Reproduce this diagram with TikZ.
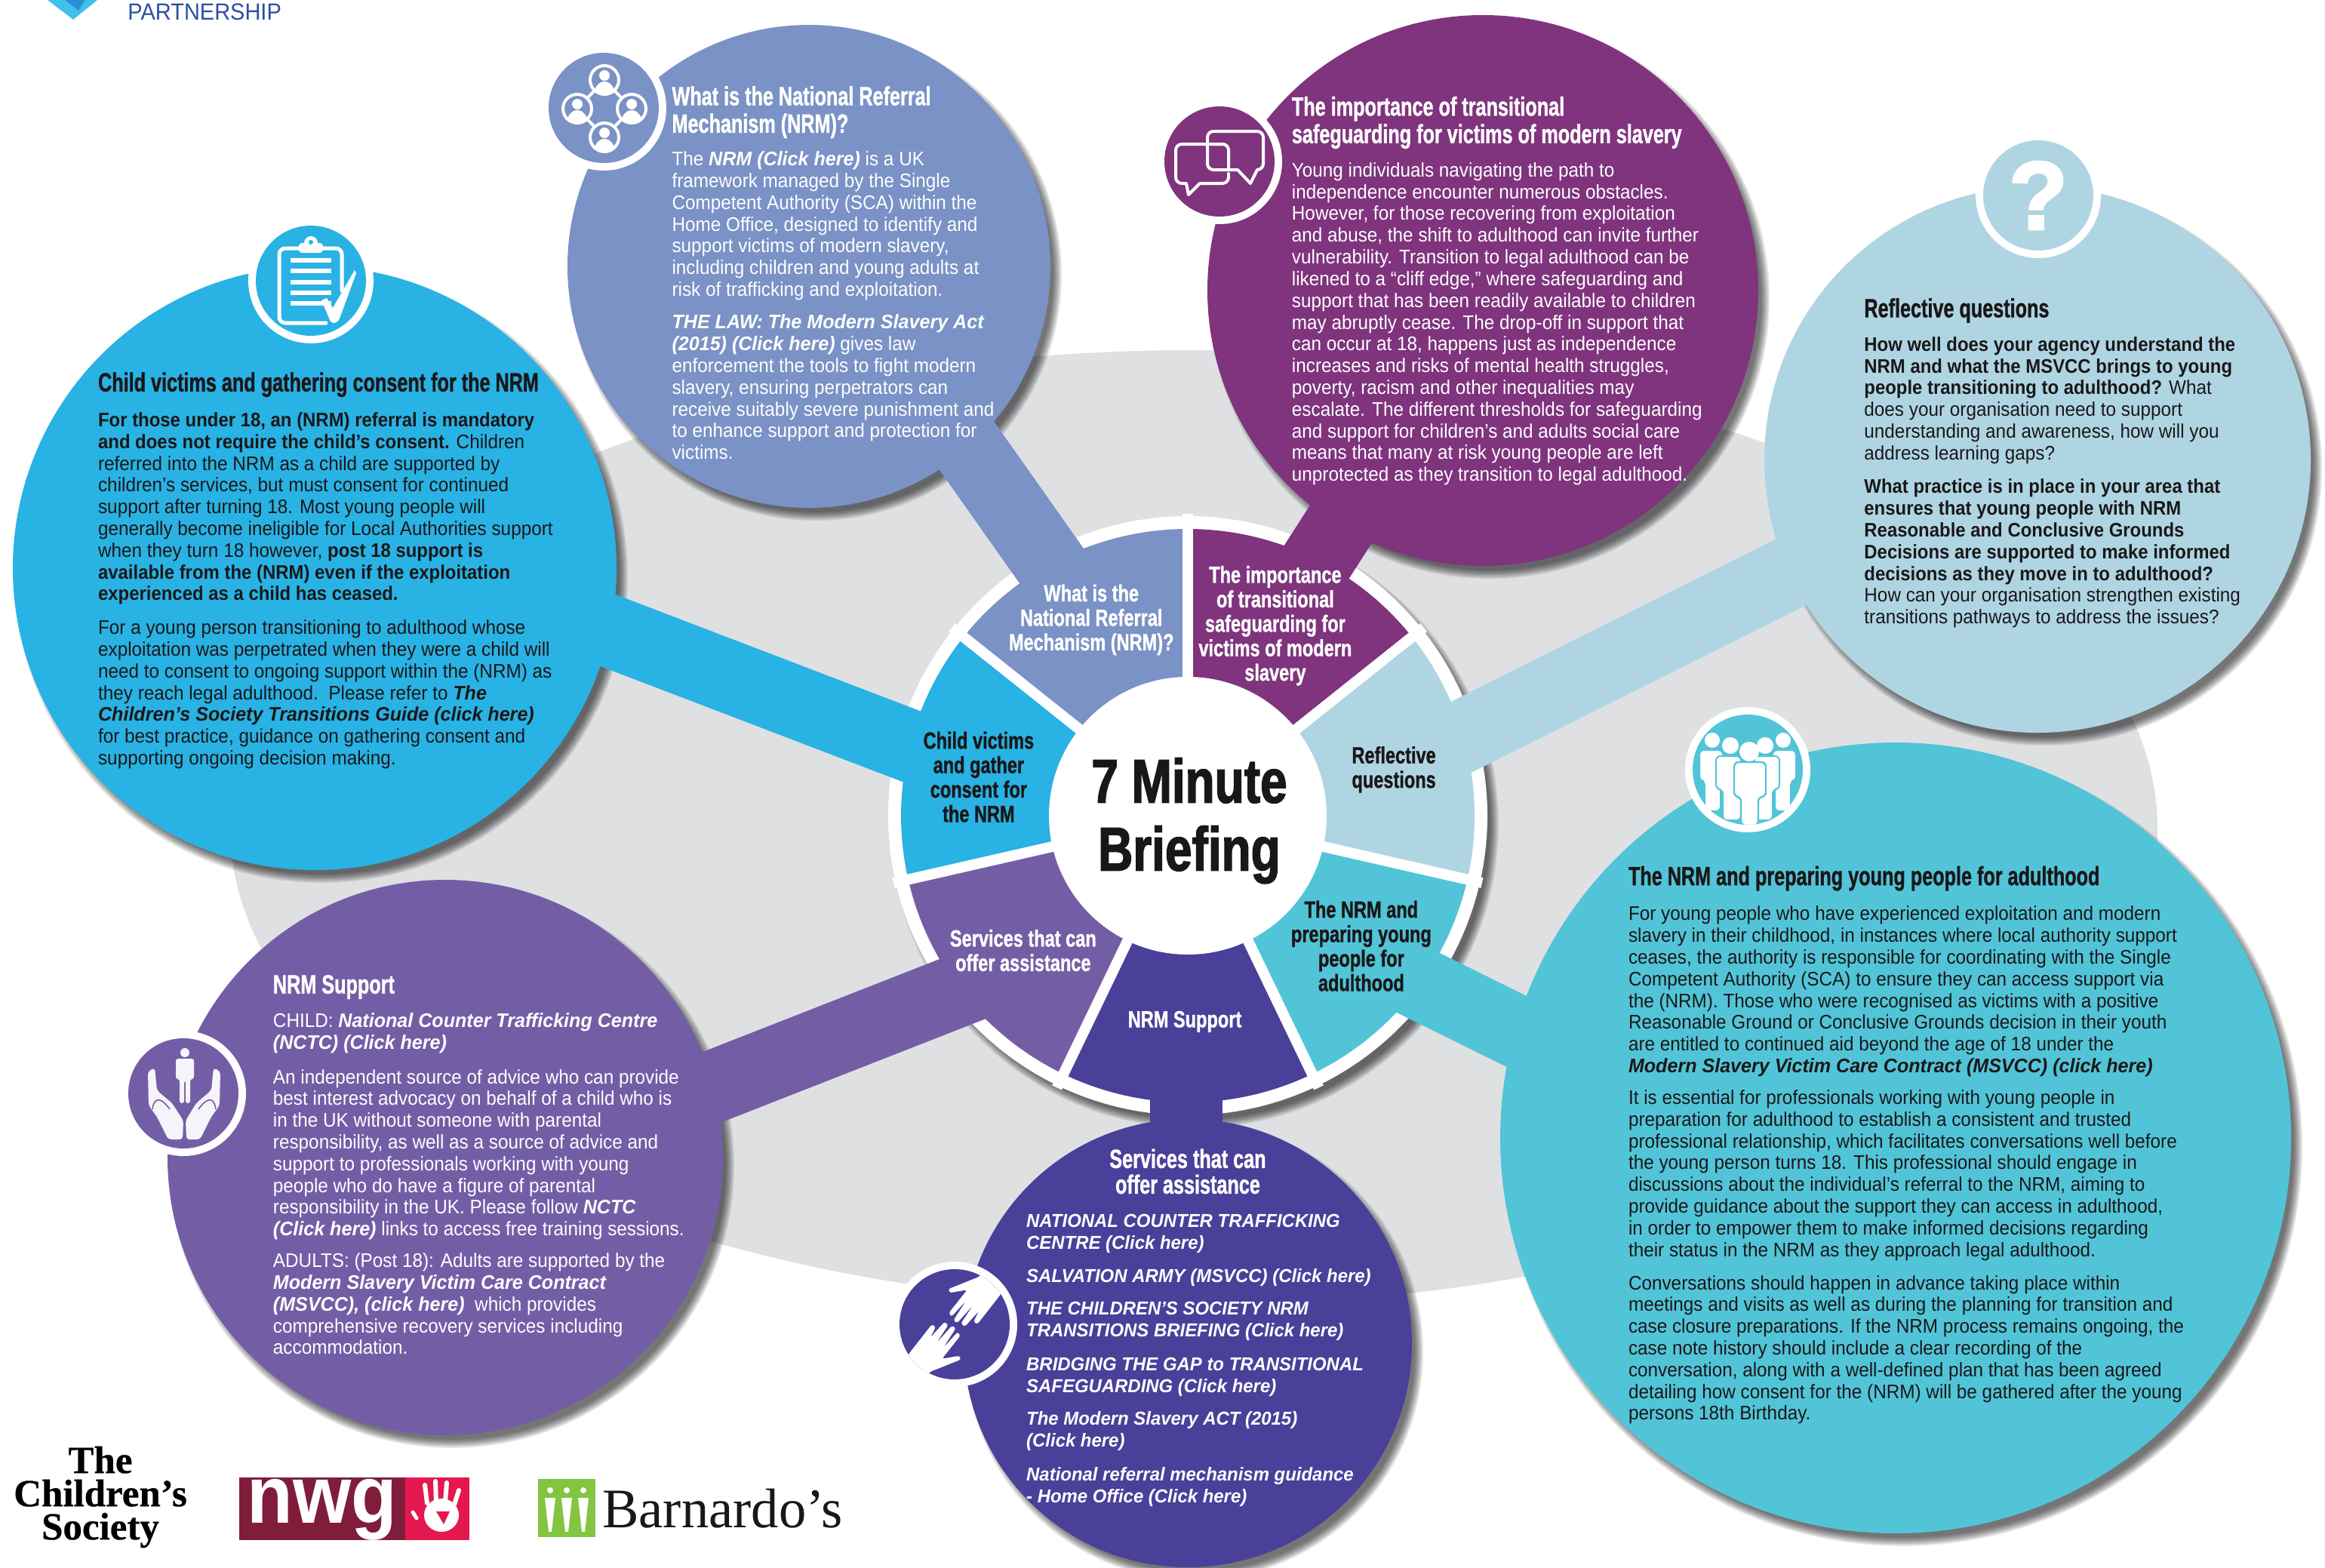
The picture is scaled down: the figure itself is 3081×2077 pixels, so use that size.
\documentclass[tikz,border=0pt]{standalone}
\usepackage{fontspec}
\setmainfont[UprightFeatures={FakeStretch=0.935},BoldFeatures={FakeStretch=0.92},ItalicFeatures={FakeStretch=0.95},BoldItalicFeatures={FakeStretch=0.965}]{Liberation Sans}
\newfontfamily\headf[FakeStretch=0.72,FakeBold=1]{Liberation Sans Bold}
\newfontfamily\wheelf[FakeStretch=0.76,FakeBold=1]{Liberation Sans Bold}
\newfontfamily\bigf[FakeStretch=0.78,FakeBold=1.8]{Liberation Sans Bold}
\newfontfamily\qmarkf[FakeBold=2.5]{Liberation Sans Bold}
\newfontfamily\logof{Liberation Serif}
\newfontfamily\tcsf[FakeStretch=1.0,FakeBold=0.5]{Liberation Serif Bold}
\newfontfamily\barnf[FakeStretch=0.98]{Liberation Serif}
\definecolor{cblue}{HTML}{29B2E4}
\definecolor{cperi}{HTML}{7A92C5}
\definecolor{cplum}{HTML}{7F347D}
\definecolor{clight}{HTML}{AFD5E3}
\definecolor{cteal}{HTML}{52C4D8}
\definecolor{cviol}{HTML}{735EA6}
\definecolor{cnavy}{HTML}{4A409A}
\definecolor{cgrey}{HTML}{DFE0E2}
\definecolor{cdark}{HTML}{1A1718}
\definecolor{cpart}{HTML}{2B4FA3}
\definecolor{cshield}{HTML}{3FC1EF}
\definecolor{cshield2}{HTML}{2F8FD6}
\definecolor{cmaroon}{HTML}{801D3A}
\definecolor{cred}{HTML}{E5174F}
\definecolor{cgreen}{HTML}{83C441}
\tikzset{
  bigdisc/.style={circle,inner sep=0pt,draw=none},
  iconring/.style={circle,inner sep=0pt,fill=white,minimum size=83pt},
  icondisc/.style={circle,inner sep=0pt,minimum size=73pt},
  spokeline/.style={line width=48pt,line cap=butt},
  ttl/.style={font=\headf\fontsize{17.5}{18.2}\selectfont,align=left,inner sep=0pt,anchor=north west},
  bdy/.style={font=\fontsize{13}{14.4}\selectfont,align=left,inner sep=0pt,anchor=north west},
  bdyn/.style={font=\fontsize{12.4}{14.4}\selectfont,align=left,inner sep=0pt,anchor=north west},
  wlab/.style={font=\wheelf\fontsize{15.5}{16.2}\selectfont,align=center,inner sep=0pt},
  glyph/.style={white,line width=2pt,line cap=round,line join=round},
}
% soft shadow round a disc
\newcommand{\softshadow}[3]{%
  \foreach \s in {0,...,7}{\fill[black,opacity=0.09] ({#1+9},{#2+11}) circle[radius={#3+6-1.6*\s}];}}
\newcommand{\tx}[5][]{\node[#1] (#2) at ({#3*1.965},{#4*1.965-11}) {\rule{0pt}{10pt}#5};}
\newcommand{\bi}[1]{\textbf{\textit{#1}}}
\newcommand{\handshape}{(1298.3,1691.7) -- (1256.7,1708.3) -- (1258.3,1713.3) -- (1281.7,1709.3) -- (1257.3,1740) -- (1260.7,1745) -- (1280,1724) -- (1263.3,1750) -- (1268.3,1753.3) -- (1289.3,1730) -- (1273.3,1754) -- (1278.3,1758.3) -- (1297.3,1737.3) -- (1290,1751.7) -- (1295,1755) -- (1325,1716.7) -- (1345,1680) -- (1310,1670) -- cycle}
\begin{document}
\begin{tikzpicture}[x=0.5pt,y=-0.5pt]
\useasboundingbox (0,0) rectangle (3081,2077);
\fill[white] (0,0) rectangle (3081,2077);
% grey backdrop
\fill[cgrey] (1582,1097) ellipse[x radius=1277,y radius=633];
% wheel
\coordinate (hub) at (1574,1081);
\softshadow{1574}{1081}{397}
\fill[white] (hub) circle[radius=397];
\foreach \a/\b/\c in {90/141.43/cperi,38.57/90/cplum,-12.86/38.57/clight,-64.29/-12.86/cteal,-115.71/-64.29/cnavy,-167.14/-115.71/cviol,-218.57/-167.14/cblue}{
  \fill[\c] (hub) -- ++({-\a}:380) arc[start angle={-\a},end angle={-\b},radius=380] -- cycle;
}
\foreach \a in {90,38.57,-12.86,-64.29,-115.71,-167.14,-218.57}{
  \draw[white,line width=7pt] (hub) -- ++({-\a}:400);
}
% big discs with their shadows
\softshadow{417}{753}{400}
\softshadow{1072}{353}{320}
\softshadow{1965}{385}{365}
\softshadow{2700}{609}{362}
\softshadow{2512}{1508}{524}
\softshadow{590}{1534}{368}
\softshadow{1574}{1780}{297}
\node[bigdisc,fill=cblue,minimum size=400pt] (dBlue) at (417,753) {};
\node[bigdisc,fill=cperi,minimum size=320pt] (dPeri) at (1072,353) {};
\node[bigdisc,fill=cplum,minimum size=365pt] (dPlum) at (1965,385) {};
\node[bigdisc,fill=clight,minimum size=362pt] (dLight) at (2700,609) {};
\node[bigdisc,fill=cteal,minimum size=524pt] (dTeal) at (2512,1508) {};
\node[bigdisc,fill=cviol,minimum size=368pt] (dViol) at (590,1534) {};
\node[bigdisc,fill=cnavy,minimum size=297pt] (dNavy) at (1574,1780) {};
% spokes
\coordinate (sBlueA) at (700,795); \coordinate (sBlueB) at (1270,1013);
\coordinate (sPeriA) at (1191,463); \coordinate (sPeriB) at (1450,830);
\coordinate (sPlumA) at (1860,565); \coordinate (sPlumB) at (1683,841);
\coordinate (sLightA) at (2500,695); \coordinate (sLightB) at (1850,1020);
\coordinate (sTealA) at (2200,1461); \coordinate (sTealB) at (1840,1283);
\coordinate (sViolA) at (800,1497); \coordinate (sViolB) at (1300,1301);
\coordinate (sNavyA) at (1572,1600); \coordinate (sNavyB) at (1572,1380);
\draw[spokeline,cblue] (sBlueA) -- (sBlueB);
\draw[spokeline,cperi] (sPeriA) -- (sPeriB);
\draw[spokeline,cplum] (sPlumA) -- (sPlumB);
\draw[spokeline,clight] (sLightA) -- (sLightB);
\draw[spokeline,cteal] (sTealA) -- (sTealB);
\draw[spokeline,cviol] (sViolA) -- (sViolB);
\draw[spokeline,cnavy] (sNavyA) -- (sNavyB);
% hub
\node[circle,fill=white,inner sep=0pt,minimum size=184pt] (hubc) at (hub) {};
\node[font=\bigf\fontsize{41}{45}\selectfont,align=center,text=cdark,inner sep=0pt] (title) at (802*1.965,553.5*1.965) {7 Minute\\Briefing};
% wheel labels
\node[wlab,text=white] (l1) at (736*1.965,418*1.965) {What is the\\National Referral\\Mechanism (NRM)?};
\node[wlab,text=white] (l2) at (860*1.965,422*1.965) {The importance\\of transitional\\safeguarding for\\victims of modern\\slavery};
\node[wlab,text=cdark] (l3) at (940*1.965,519*1.965) {Reflective\\questions};
\node[wlab,text=cdark] (l4) at (918*1.965,638*1.965) {The NRM and\\preparing young\\people for\\adulthood};
\node[wlab,text=white] (l5) at (799*1.965,689*1.965) {NRM Support};
\node[wlab,text=white] (l6) at (690*1.965,641*1.965) {Services that can\\offer assistance};
\node[wlab,text=cdark] (l7) at (660*1.965,524*1.965) {Child victims\\and gather\\consent for\\the NRM};
% icon discs
\node[iconring] (rBlue) at (412,372) {};   \node[icondisc,fill=cblue] (iBlue) at (412,372) {};
\node[iconring] (rPeri) at (800,143) {};   \node[icondisc,fill=cperi] (iPeri) at (800,143) {};
\node[iconring] (rPlum) at (1616,214) {};  \node[icondisc,fill=cplum] (iPlum) at (1616,214) {};
\node[iconring] (rLight) at (2701,259) {}; \node[icondisc,fill=clight] (iLight) at (2701,259) {};
\node[iconring] (rTeal) at (2316,1020) {}; \node[icondisc,fill=cteal] (iTeal) at (2316,1020) {};
\node[iconring] (rViol) at (243,1449) {};  \node[icondisc,fill=cviol] (iViol) at (243,1449) {};
\node[iconring] (rNavy) at (1265,1755) {}; \node[icondisc,fill=cnavy] (iNavy) at (1265,1755) {};
% clipboard
\draw[glyph,line width=2.5pt] (396,329) -- (378,329) arc[start angle=-90,end angle=-180,radius=8] -- (370,420) arc[start angle=180,end angle=90,radius=8] -- (432,428);
\draw[glyph,line width=2.5pt] (428,329) -- (445,329) arc[start angle=-90,end angle=0,radius=8] -- (453,385);
\fill[white,rounded corners=2pt] (396,322) rectangle (428,335);
\fill[white] (412,322) circle[radius=9];
\fill[cblue] (412,321) circle[radius=3];
\foreach \yy in {345,359,374,388,402}{\fill[white] (385,\yy-3) rectangle (439,\yy+3);}
\fill[white] (426,398) -- (433,395) -- (441,408) -- (470,358) -- (472,362) -- (450,422) .. controls (446,430) and (440,430) .. (437,424) -- cycle;
% network of people
\draw[white,line width=2pt] (801,106) -- (765,144) -- (801,182) -- (837,144) -- cycle;
\foreach \px/\py in {801/106,765/144,837/144,801/182}{
  \fill[cperi] (\px,\py) circle[radius=21];
  \draw[white,line width=2pt] (\px,\py) circle[radius=19];
  \fill[white] (\px,\py-6) circle[radius=7];
  \begin{scope}
    \clip (\px,\py) circle[radius=18];
    \fill[white] (\px,\py+20) ellipse[x radius=14,y radius=18];
  \end{scope}
}
% speech bubbles
\draw[glyph] (1622,191) -- (1566,191) arc[start angle=-90,end angle=-180,radius=8] -- (1558,235) arc[start angle=180,end angle=90,radius=8] -- (1572,243) -- (1575,258) -- (1590,243) -- (1620,243) arc[start angle=90,end angle=0,radius=8] -- (1628,230);
\draw[glyph] (1608,174) -- (1666,174) arc[start angle=-90,end angle=0,radius=8] -- (1674,217) arc[start angle=0,end angle=90,radius=8] -- (1666,225) -- (1657,243) -- (1640,225) -- (1608,225) arc[start angle=90,end angle=180,radius=8] -- (1600,182) arc[start angle=180,end angle=270,radius=8];
\draw[glyph] (1608,191) -- (1620,191) arc[start angle=-90,end angle=0,radius=8] -- (1628,222);
% question mark
\node[font=\qmarkf\fontsize{64}{64}\selectfont,text=white,inner sep=0pt] (qm) at (2701,259) {?};
% crowd of people
\begin{scope}
\clip (2316,1020) circle[radius=73];
\foreach \f/\hx/\hy/\hr/\tl/\tr/\tt/\tb/\ll/\lr/\lb in {
  1/2269/981/10/2252/2283/994/1035/2259/2280/1075,
  2/2363/981/10/2349/2380/994/1035/2352/2373/1075,
  3/2293/988/11/2274/2307/1002/1046/2283/2307/1087,
  4/2339/988/11/2325/2358/1002/1046/2325/2349/1087}{
  \fill[white,draw=cteal,line width=1pt,rounded corners=3pt] (\tl,\tt) -- (\tr,\tt) -- (\tr,\tb) -- (\lr,\tb) -- (\lr,\lb) -- (\ll,\lb) -- (\ll,\tb) -- (\tl,\tb) -- cycle;
  \fill[white] (\hx,\hy) circle[radius=\hr];
}
\fill[white,draw=cteal,line width=1.2pt,rounded corners=3pt] (2298,1010) -- (2340,1010) -- (2340,1056) -- (2330,1056) -- (2330,1094) -- (2307,1094) -- (2307,1056) -- (2298,1056) -- cycle;
\fill[white] (2318,996) circle[radius=13];
\end{scope}
% hands with figure
\fill[white!93!cviol] (245,1395) circle[radius=6];
\fill[white!93!cviol,rounded corners=1.5pt] (233,1403) -- (257,1403) -- (257,1430) -- (252,1430) -- (252,1462) -- (246,1462) -- (246,1432) -- (244,1432) -- (244,1462) -- (238,1462) -- (238,1430) -- (233,1430) -- cycle;
\fill[white!93!cviol,rounded corners=2pt] (196,1420) -- (205,1415) -- (208,1445) -- (228,1462) -- (243,1485) -- (242,1510) -- (223,1510) -- (208,1480) -- (197,1465) -- cycle;
\fill[white!93!cviol,rounded corners=2pt] (292,1420) -- (283,1415) -- (280,1445) -- (260,1462) -- (246,1485) -- (247,1510) -- (265,1510) -- (280,1480) -- (291,1465) -- cycle;
\draw[cviol,line width=0.8pt] (202,1470) .. controls (204,1455) and (212,1452) .. (225,1470);
\draw[cviol,line width=0.8pt] (286,1470) .. controls (284,1455) and (276,1452) .. (263,1470);
% reaching hands
\begin{scope}
\clip (1265,1755) circle[radius=73];
\fill[white,rounded corners=1.5pt] \handshape;
\fill[white,rounded corners=1.5pt,rotate around={180:(1265,1755)}] \handshape;
\end{scope}
% ------ texts
\tx[ttl,text=cdark]{tBlue}{66}{256.5}{Child victims and gathering consent for the NRM}
\tx[bdy,text=cdark]{bBlue1}{66}{283}{\textbf{For those under 18, an (NRM) referral is mandatory}\\\textbf{and does not require the child's consent.} Children\\referred into the NRM as a child are supported by\\children's services, but must consent for continued\\support after turning 18. Most young people will\\generally become ineligible for Local Authorities support\\when they turn 18 however, \textbf{post 18 support is}\\\textbf{available from the (NRM) even if the exploitation}\\\textbf{experienced as a child has ceased.}}
\tx[bdy,text=cdark]{bBlue2}{66}{423}{For a young person transitioning to adulthood whose\\exploitation was perpetrated when they were a child will\\need to consent to ongoing support within the (NRM) as\\they reach legal adulthood.\ \ Please refer to \bi{The}\\\bi{Children's Society Transitions Guide (click here)}\\for best practice, guidance on gathering consent and\\supporting ongoing decision making.}
\tx[ttl,text=white]{tPeri}{453}{63.5}{What is the National Referral\\Mechanism (NRM)?}
\tx[bdy,text=white]{bPeri1}{453}{107}{The \bi{NRM (Click here)} is a UK\\framework managed by the Single\\Competent Authority (SCA) within the\\Home Office, designed to identify and\\support victims of modern slavery,\\including children and young adults at\\risk of trafficking and exploitation.}
\tx[bdy,text=white]{bPeri2}{453}{217}{\bi{THE LAW: The Modern Slavery Act}\\\bi{(2015) (Click here)} gives law\\enforcement the tools to fight modern\\slavery, ensuring perpetrators can\\receive suitably severe punishment and\\to enhance support and protection for\\victims.}
\tx[ttl,text=white]{tPlum}{871}{70.5}{The importance of transitional\\safeguarding for victims of modern slavery}
\tx[bdy,text=white]{bPlum}{871}{114.5}{Young individuals navigating the path to\\independence encounter numerous obstacles.\\However, for those recovering from exploitation\\and abuse, the shift to adulthood can invite further\\vulnerability. Transition to legal adulthood can be\\likened to a “cliff edge,” where safeguarding and\\support that has been readily available to children\\may abruptly cease. The drop-off in support that\\can occur at 18, happens just as independence\\increases and risks of mental health struggles,\\poverty, racism and other inequalities may\\escalate. The different thresholds for safeguarding\\and support for children’s and adults social care\\means that many at risk young people are left\\unprotected as they transition to legal adulthood.}
\tx[ttl,text=cdark]{tLight}{1257}{206.5}{Reflective questions}
\tx[bdy,text=cdark]{bLight1}{1257}{232}{\textbf{How well does your agency understand the}\\\textbf{NRM and what the MSVCC brings to young}\\\textbf{people transitioning to adulthood?} What\\does your organisation need to support\\understanding and awareness, how will you\\address learning gaps?}
\tx[bdy,text=cdark]{bLight2}{1257}{328}{\textbf{What practice is in place in your area that}\\\textbf{ensures that young people with NRM}\\\textbf{Reasonable and Conclusive Grounds}\\\textbf{Decisions are supported to make informed}\\\textbf{decisions as they move in to adulthood?}\\How can your organisation strengthen existing\\transitions pathways to address the issues?}
\tx[ttl,text=cdark]{tTeal}{1098}{589.5}{The NRM and preparing young people for adulthood}
\tx[bdy,text=cdark]{bTeal1}{1098}{616}{For young people who have experienced exploitation and modern\\slavery in their childhood, in instances where local authority support\\ceases, the authority is responsible for coordinating with the Single\\Competent Authority (SCA) to ensure they can access support via\\the (NRM). Those who were recognised as victims with a positive\\Reasonable Ground or Conclusive Grounds decision in their youth\\are entitled to continued aid beyond the age of 18 under the\\\bi{Modern Slavery Victim Care Contract (MSVCC) (click here)}}
\tx[bdy,text=cdark]{bTeal2}{1098}{740}{It is essential for professionals working with young people in\\preparation for adulthood to establish a consistent and trusted\\professional relationship, which facilitates conversations well before\\the young person turns 18. This professional should engage in\\discussions about the individual's referral to the NRM, aiming to\\provide guidance about the support they can access in adulthood,\\in order to empower them to make informed decisions regarding\\their status in the NRM as they approach legal adulthood.}
\tx[bdy,text=cdark]{bTeal3}{1098}{865}{Conversations should happen in advance taking place within\\meetings and visits as well as during the planning for transition and\\case closure preparations. If the NRM process remains ongoing, the\\case note history should include a clear recording of the\\conversation, along with a well-defined plan that has been agreed\\detailing how consent for the (NRM) will be gathered after the young\\persons 18th Birthday.}
\tx[ttl,text=white]{tViol}{184}{663}{NRM Support}
\tx[bdy,text=white]{bViol1}{184}{688}{CHILD: \bi{National Counter Trafficking Centre}\\\bi{(NCTC) (Click here)}}
\tx[bdy,text=white]{bViol2}{184}{726}{An independent source of advice who can provide\\best interest advocacy on behalf of a child who is\\in the UK without someone with parental\\responsibility, as well as a source of advice and\\support to professionals working with young\\people who do have a figure of parental\\responsibility in the UK. Please follow \bi{NCTC}\\\bi{(Click here)} links to access free training sessions.}
\tx[bdy,text=white]{bViol3}{184}{850}{ADULTS: (Post 18): Adults are supported by the\\\bi{Modern Slavery Victim Care Contract}\\\bi{(MSVCC), (click here)}\ \ which provides\\comprehensive recovery services including\\accommodation.}
\node[wlab,text=white,font=\headf\fontsize{17.5}{17}\selectfont] (tNavy) at (801*1.965,790*1.965) {Services that can\\offer assistance};
\tx[bdyn,text=white]{bNavy1}{692}{823}{\bi{NATIONAL COUNTER TRAFFICKING}\\\bi{CENTRE (Click here)}}
\tx[bdyn,text=white]{bNavy2}{692}{860}{\bi{SALVATION ARMY (MSVCC) (Click here)}}
\tx[bdyn,text=white]{bNavy3}{692}{882}{\bi{THE CHILDREN'S SOCIETY NRM}\\\bi{TRANSITIONS BRIEFING (Click here)}}
\tx[bdyn,text=white]{bNavy4}{692}{919.5}{\bi{BRIDGING THE GAP to TRANSITIONAL}\\\bi{SAFEGUARDING (Click here)}}
\tx[bdyn,text=white]{bNavy5}{692}{956.5}{\bi{The Modern Slavery ACT (2015)}\\\bi{(Click here)}}
\tx[bdyn,text=white]{bNavy6}{692}{994}{\bi{National referral mechanism guidance}\\\bi{- Home Office (Click here)}}
% ------ logos
\fill[cshield] (63,0) -- (129,0) -- (97,26) -- cycle;
\fill[cshield2] (86,0) -- (104,14) -- (113,0) -- cycle;
\node[font=\fontsize{15.5}{16}\selectfont,text=cpart,inner sep=0pt,anchor=base west] (partner) at (169,26) {PARTNERSHIP};
\node[font=\tcsf\fontsize{25.5}{22}\selectfont,align=center,inner sep=0pt,text=black] (tcs) at (133,1984) {The\\Children’s\\Society};
\fill[cmaroon] (317,1958) rectangle (537,2041);
\fill[cred] (537,1958) rectangle (622,2041);
\begin{scope}
\clip (317,1958) rectangle (537,2041);
\node[font=\bfseries\fontsize{54}{54}\selectfont,text=white,inner sep=0pt,anchor=base] (nwg) at (427,2018) {nwg};
\end{scope}
\fill[white] (585,2008) ellipse[x radius=23,y radius=22];
\foreach \ax/\ay/\bx/\by in {566/1992/563/1968,578/1990/577/1963,590/1990/592/1965,602/1994/608/1975}{\draw[white,line width=3pt,line cap=round] (\ax,\ay) -- (\bx,\by);}
\draw[white,line width=2.5pt,line cap=round] (547,2004) -- (552,2012);
\fill[cred] (578,2003) -- (596,2003) -- (588,2020) -- cycle;
\fill[cgreen] (713,1960) rectangle (789,2037);
\foreach \q in {729,751,773}{
  \fill[white] (\q,1975) circle[radius=4];
  \fill[white] (\q-7,1985) -- (\q+7,1985) -- (\q+2,2030) -- (\q-2,2030) -- cycle;
}
\node[font=\barnf\fontsize{37}{37}\selectfont,inner sep=0pt,anchor=base west,text=cdark] (barn) at (798,2024) {Barnardo’s};
\end{tikzpicture}
\end{document}
